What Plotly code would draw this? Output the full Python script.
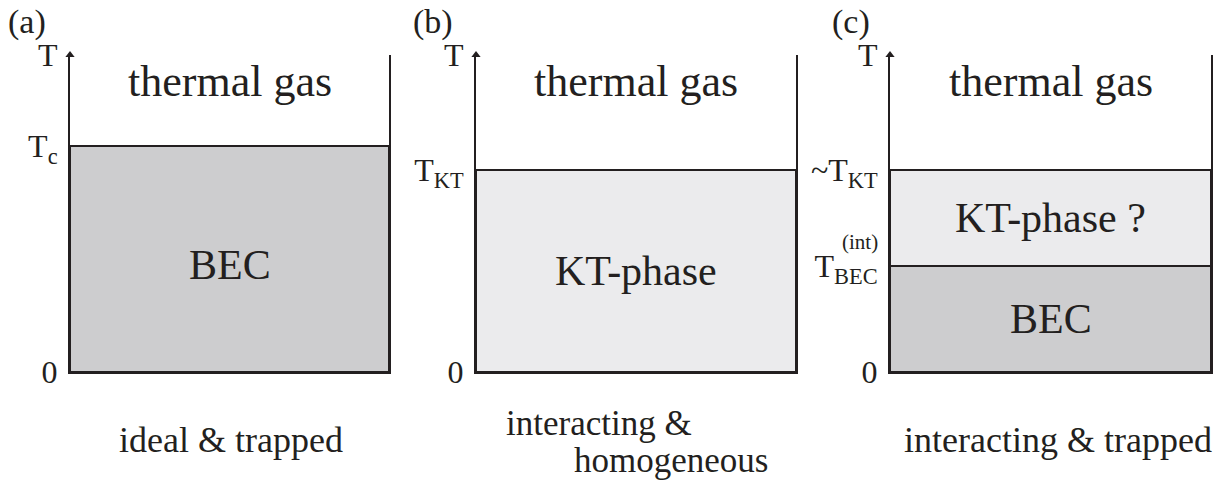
import plotly.graph_objects as go

# ---- data (temperature levels, normalised so that top of axis = 1) ----
T_TOP = 1.0
T_C = 0.713          # panel (a) ideal & trapped
T_KT_B = 0.637       # panel (b) homogeneous
T_KT_C = 0.637       # panel (c) ~T_KT
T_BEC_C = 0.334      # panel (c) T_BEC^(int)

panel_tags = ["(a)", "(b)", "(c)"]
bottom_labels = ["ideal &amp; trapped", "interacting &amp;", "homogeneous", "interacting &amp; trapped"]

INK = "#231f20"
DARK = "#cdcdcf"
LIGHT = "#ebebed"
FONT = "Liberation Serif, Times New Roman, serif"

fig = go.Figure()

x_domains = [[70/1228, 389/1228], [476/1228, 796/1228], [890/1228, 1211/1228]]
y_domain = [116/488, 433/488]

regions = [
    (1, 0.0, T_C, DARK, "BEC", -6),
    (2, 0.0, T_KT_B, LIGHT, "KT-phase", 0),
    (3, 0.0, T_BEC_C, DARK, "BEC", 0),
    (3, T_BEC_C, T_KT_C, LIGHT, "KT-phase ?", 0),
]
for ax, base, top, col, lab, ysh in regions:
    sfx = "" if ax == 1 else str(ax)
    fig.add_trace(go.Bar(
        x=[0.5], y=[top - base], base=[base], width=[1.0],
        marker=dict(color=col, line=dict(color=INK, width=2)),
        xaxis="x" + sfx, yaxis="y" + sfx, showlegend=False, hoverinfo="skip",
    ))
    fig.add_annotation(
        x=0.5, y=(base + top) / 2, xref="x" + sfx, yref="y" + sfx, yshift=ysh,
        text=lab, showarrow=False, font=dict(family=FONT, size=42, color=INK),
    )

tick_sets = [
    ([0, T_C, T_TOP], ["0", "T<sub>c</sub>", "T"]),
    ([0, T_KT_B, T_TOP], ["0", "T<sub>KT</sub>", "T"]),
    ([0, T_BEC_C, T_KT_C, T_TOP], ["0", "T<sub>BEC</sub>", "~T<sub>KT</sub>", "T"]),
]

layout = dict(
    width=1228, height=488, autosize=False, margin=dict(l=0, r=0, t=0, b=0, autoexpand=False),
    paper_bgcolor="white", plot_bgcolor="white", barmode="overlay",
)
for i in range(3):
    sfx = "" if i == 0 else str(i + 1)
    layout["xaxis" + sfx] = dict(
        domain=x_domains[i], range=[0, 1], showline=True, linecolor=INK, linewidth=2,
        showgrid=False, zeroline=False, showticklabels=False, ticks="",
        anchor="y" + sfx, fixedrange=True,
    )
    tv, tt = tick_sets[i]
    layout["yaxis" + sfx] = dict(
        domain=y_domain, range=[0, 1], showline=True, linecolor=INK, linewidth=2,
        mirror=True, showgrid=False, zeroline=False, ticks="",
        tickvals=tv, ticktext=tt, tickfont=dict(family=FONT, size=32, color=INK),
        ticklabelstandoff=4, anchor="x" + sfx, fixedrange=True,
    )
    # arrow head on the T axis
    fig.add_trace(go.Scatter(
        x=[0], y=[T_TOP], mode="markers", cliponaxis=False,
        marker=dict(symbol="triangle-up", size=8, color=INK),
        xaxis="x" + sfx, yaxis="y" + sfx, showlegend=False, hoverinfo="skip",
    ))
    fig.add_annotation(
        x=0.5, y=0.915, xref="x" + sfx, yref="y" + sfx, text="thermal gas",
        showarrow=False, font=dict(family=FONT, size=44, color=INK),
    )

fig.update_layout(**layout)

fig.add_annotation(
    x=0, y=T_BEC_C, xref="x3", yref="y3", text="(int)", showarrow=False,
    xanchor="right", yanchor="bottom", xshift=-10, yshift=10,
    font=dict(family=FONT, size=21, color=INK),
)

for tag, xpx in zip(panel_tags, [6, 411, 830]):
    fig.add_annotation(
        x=xpx / 1228, y=1 - 22 / 488, xref="paper", yref="paper", text=tag,
        showarrow=False, xanchor="left", yanchor="middle",
        font=dict(family=FONT, size=34, color=INK),
    )

caption_pos = [(231, 440, 36), (599, 423, 35), (671, 460, 35), (1058, 440, 36)]
for txt, (cx, cy, fs) in zip(bottom_labels, caption_pos):
    fig.add_annotation(x=cx/1228, y=1 - cy/488, xref="paper", yref="paper",
                       text=txt, showarrow=False, xanchor="center", yanchor="middle",
                       font=dict(family=FONT, size=fs, color=INK))

fig.write_html(
    "out.html",
    config={"responsive": False, "displayModeBar": False},
    default_width="1228px", default_height="488px",
    post_script="document.body.style.margin='0';document.body.style.padding='0';",
)
